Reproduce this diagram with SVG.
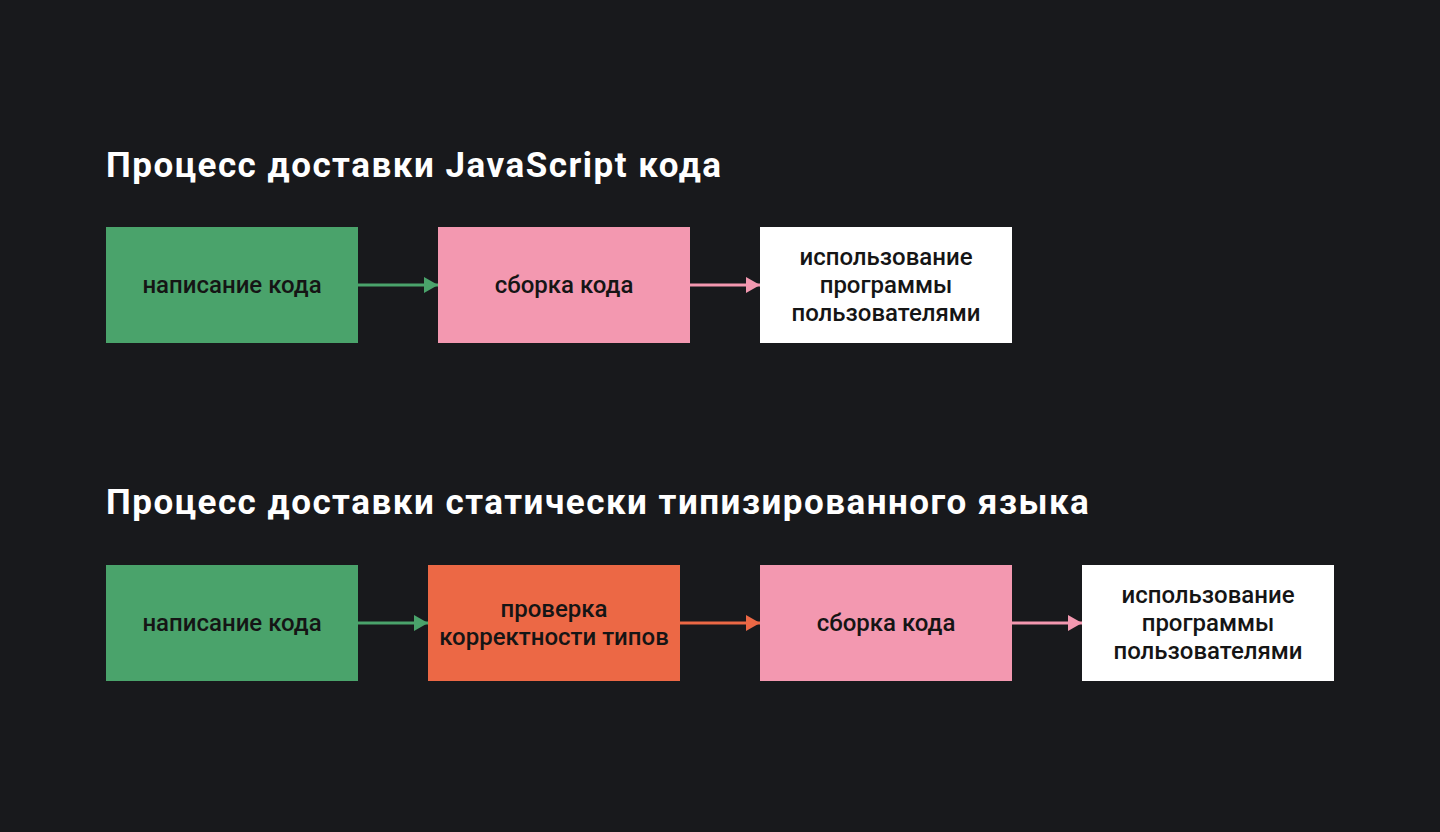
<svg xmlns="http://www.w3.org/2000/svg" width="1440" height="832" viewBox="0 0 1440 832">
<style>
.title{font-family:Roboto,"Liberation Sans",sans-serif;font-weight:700;font-size:35px;fill:#ffffff;letter-spacing:1.5px}
.lbl{font-family:Roboto,"Liberation Sans",sans-serif;font-weight:500;font-size:24px;fill:#151515;text-anchor:middle}
.green{fill:#4aa36b}.pink{fill:#f398b0}.orange{fill:#ec6845}.white{fill:#ffffff}
.lg{stroke:#4aa36b;stroke-width:3;fill:none}.lp{stroke:#f398b0;stroke-width:3;fill:none}.lo{stroke:#ec6845;stroke-width:3;fill:none}
</style>
<defs>
<marker id="ag" viewBox="0 0 14 16" refX="14" refY="8" markerWidth="14" markerHeight="16" markerUnits="userSpaceOnUse" orient="auto"><path d="M0,0L14,8L0,16z" fill="#4aa36b"/></marker>
<marker id="ap" viewBox="0 0 14 16" refX="14" refY="8" markerWidth="14" markerHeight="16" markerUnits="userSpaceOnUse" orient="auto"><path d="M0,0L14,8L0,16z" fill="#f398b0"/></marker>
<marker id="ao" viewBox="0 0 14 16" refX="14" refY="8" markerWidth="14" markerHeight="16" markerUnits="userSpaceOnUse" orient="auto"><path d="M0,0L14,8L0,16z" fill="#ec6845"/></marker>
</defs>
<rect width="1440" height="832" fill="#18191c"/>
<text class="title" x="106" y="177">Процесс доставки JavaScript кода</text>
<text class="title" x="106" y="514">Процесс доставки статически типизированного языка</text>
<g id="connectors">
<path class="lg" d="M358,285H438" marker-end="url(#ag)"/>
<path class="lp" d="M690,285H760" marker-end="url(#ap)"/>
<path class="lg" d="M358,623H428" marker-end="url(#ag)"/>
<path class="lo" d="M680,623H760" marker-end="url(#ao)"/>
<path class="lp" d="M1012,623H1082" marker-end="url(#ap)"/>
</g>
<g id="n1"><rect class="green" x="106" y="227" width="252" height="116"/><text class="lbl" x="232" y="293">написание кода</text></g>
<g id="n2"><rect class="pink" x="438" y="227" width="252" height="116"/><text class="lbl" x="564" y="293">сборка кода</text></g>
<g id="n3"><rect class="white" x="760" y="227" width="252" height="116"/><text class="lbl" x="886" y="265">использование</text><text class="lbl" x="886" y="293">программы</text><text class="lbl" x="886" y="321">пользователями</text></g>
<g id="n4"><rect class="green" x="106" y="565" width="252" height="116"/><text class="lbl" x="232" y="631">написание кода</text></g>
<g id="n5"><rect class="orange" x="428" y="565" width="252" height="116"/><text class="lbl" x="554" y="617">проверка</text><text class="lbl" x="554" y="645">корректности типов</text></g>
<g id="n6"><rect class="pink" x="760" y="565" width="252" height="116"/><text class="lbl" x="886" y="631">сборка кода</text></g>
<g id="n7"><rect class="white" x="1082" y="565" width="252" height="116"/><text class="lbl" x="1208" y="603">использование</text><text class="lbl" x="1208" y="631">программы</text><text class="lbl" x="1208" y="659">пользователями</text></g>
</svg>
